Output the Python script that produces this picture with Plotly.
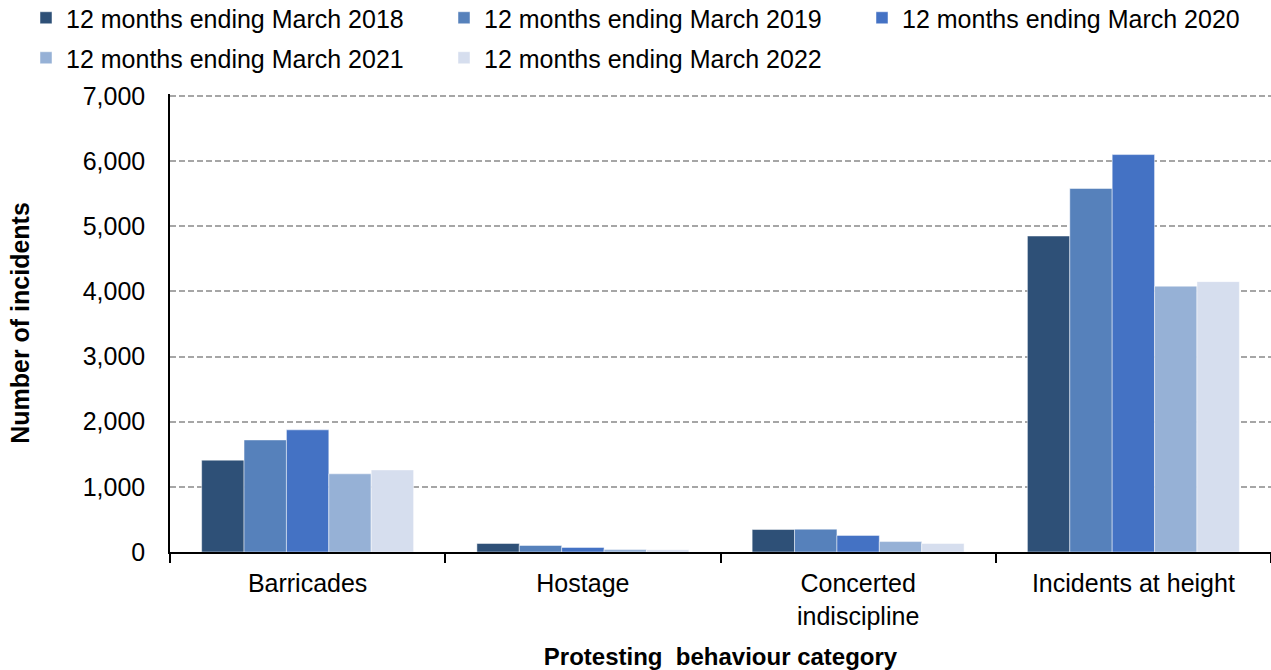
import plotly.graph_objects as go

categories = ["Barricades", "Hostage", "Concerted<br>indiscipline", "Incidents at height"]
series_names = [
    "12 months ending March 2018",
    "12 months ending March 2019",
    "12 months ending March 2020",
    "12 months ending March 2021",
    "12 months ending March 2022",
]
values_2018 = [1410, 130, 345, 4850]
values_2019 = [1720, 100, 350, 5580]
values_2020 = [1875, 70, 255, 6100]
values_2021 = [1200, 40, 160, 4080]
values_2022 = [1260, 35, 130, 4150]
y_tickvals = [0, 1000, 2000, 3000, 4000, 5000, 6000, 7000]
y_ticktext = ["0", "1,000", "2,000", "3,000", "4,000", "5,000", "6,000", "7,000"]

colors = ["#2E5077", "#5681BB", "#4472C4", "#96B1D6", "#D6DEEE"]
all_values = [values_2018, values_2019, values_2020, values_2021, values_2022]

# legend entry placement (pixels of text start, row centre)
legend_ids = ["legend", "legend2", "legend3", "legend4", "legend5"]
legend_text_x = [66, 484, 902, 66, 484]
legend_row_y = [18, 18, 18, 58, 58]

FONT = "Liberation Sans, Arial, sans-serif"

fig = go.Figure()
for name, vals, col, lg in zip(series_names, all_values, colors, legend_ids):
    fig.add_trace(go.Bar(
        x=categories, y=vals, name=name, legend=lg,
        marker=dict(color=col, line=dict(color="rgba(255,255,255,0.6)", width=0.8)),
    ))

legend_layouts = {}
for lg, tx, ty in zip(legend_ids, legend_text_x, legend_row_y):
    legend_layouts[lg] = dict(
        orientation="h", xref="container", yref="container",
        xanchor="left", yanchor="middle",
        x=(tx - 40) / 1271, y=1 - ty / 670,
        font=dict(family=FONT, size=25, color="#000000"),
        bgcolor="rgba(0,0,0,0)", itemclick=False, itemdoubleclick=False,
    )

fig.update_layout(
    width=1271, height=670,
    margin=dict(l=170, r=0, t=94, b=118),
    paper_bgcolor="white", plot_bgcolor="white",
    font=dict(family=FONT, size=25, color="#000000"),
    barmode="group", bargap=0.23, bargroupgap=0,
    showlegend=True,
    **legend_layouts,
    xaxis=dict(
        type="category",
        showline=True, linecolor="#000000", linewidth=2,
        ticks="outside", tickson="boundaries", ticklen=9, tickwidth=2, tickcolor="#000000",
        ticklabelstandoff=8,
        tickfont=dict(family=FONT, size=25, color="#000000"),
        title=dict(text="<b>Protesting  behaviour category</b>",
                   font=dict(family=FONT, size=24, color="#000000"), standoff=22),
        showgrid=False,
    ),
    yaxis=dict(
        range=[0, 7030], tickvals=y_tickvals, ticktext=y_ticktext,
        showline=True, linecolor="#000000", linewidth=1.5,
        ticks="", ticklabelstandoff=18,
        tickfont=dict(family=FONT, size=25, color="#000000"),
        showgrid=True, gridcolor="#A6A6A6", gridwidth=1.5, griddash="6px,3px",
        zeroline=False,
        title=dict(text="<b>Number of incidents</b>",
                   font=dict(family=FONT, size=25, color="#000000"), standoff=46),
    ),
)

fig.write_html("out.html")
